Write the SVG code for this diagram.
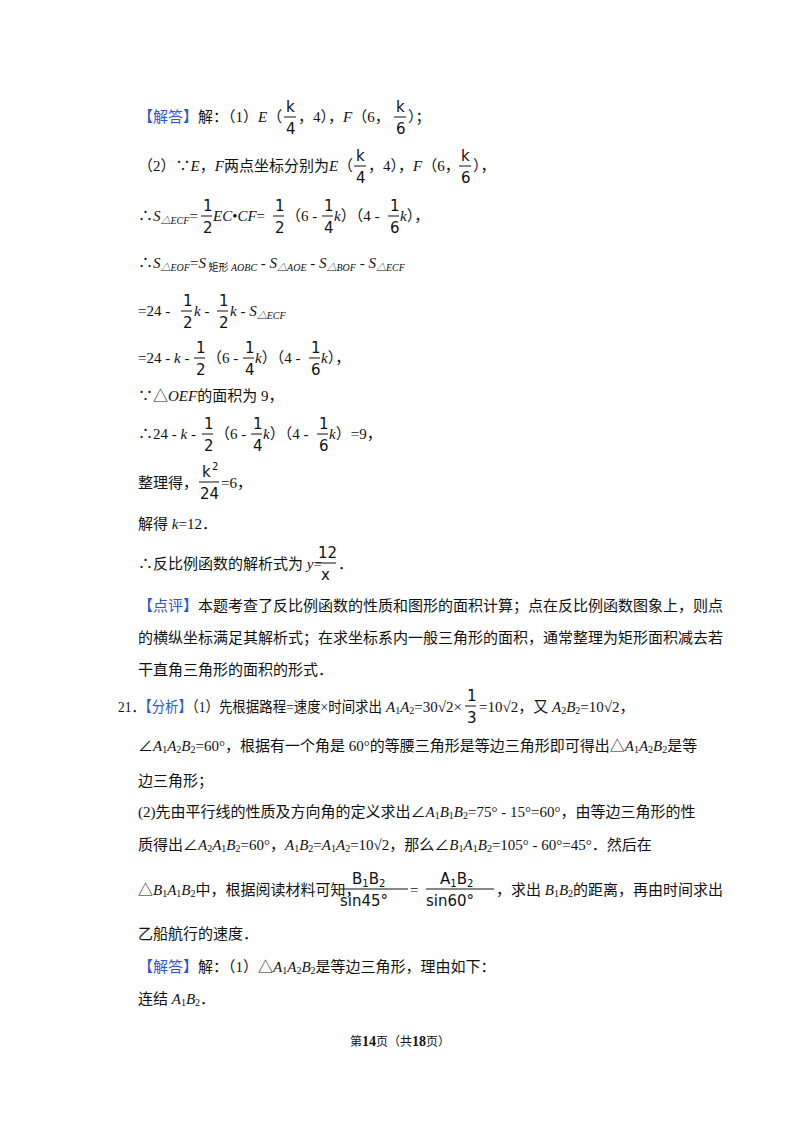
<svg xmlns="http://www.w3.org/2000/svg" width="800" height="1132" viewBox="0 0 800 1132">
<style>
text{font-family:"Liberation Serif","Noto Sans CJK SC",serif;font-size:15px;fill:#111}
.b{fill:#2b55d6}
.i{font-style:italic}
.s{font-size:10px}
.fr{font-family:"DejaVu Sans","Liberation Sans",sans-serif;font-size:15px}
line{stroke:#111;stroke-width:1}
</style>
<rect width="800" height="1132" fill="#fff"/>
<!-- line 1 -->
<text x="138" y="122"><tspan class="b">【解答】</tspan>解：（1）<tspan class="i">E</tspan>（</text>
<text class="fr" x="286" y="112">k</text><line x1="284" y1="117" x2="296" y2="117"/><text class="fr" x="286" y="134">4</text>
<text x="298" y="122">，4），<tspan class="i">F</tspan>（6，</text>
<text class="fr" x="396" y="112">k</text><line x1="394" y1="117" x2="406" y2="117"/><text class="fr" x="396" y="134">6</text>
<text x="408" y="122">）；</text>
<!-- line 2 -->
<text x="138" y="171">（2）∵<tspan class="i">E</tspan>，<tspan class="i">F</tspan>两点坐标分别为<tspan class="i">E</tspan>（</text>
<text class="fr" x="356" y="161">k</text><line x1="354" y1="166" x2="366" y2="166"/><text class="fr" x="356" y="183">4</text>
<text x="368" y="171">，4），<tspan class="i">F</tspan>（6，</text>
<text class="fr" x="461" y="161">k</text><line x1="459" y1="166" x2="471" y2="166"/><text class="fr" x="461" y="183">6</text>
<text x="473" y="171">），</text>
<!-- line 3 -->
<text x="138" y="221">∴<tspan class="i">S</tspan><tspan class="s i" dy="3">△ECF</tspan><tspan dy="-3">=</tspan></text>
<text class="fr" x="203" y="211">1</text><line x1="201" y1="216" x2="212" y2="216"/><text class="fr" x="203" y="233">2</text>
<text x="213" y="221" class="i">EC<tspan style="font-style:normal">•</tspan>CF<tspan style="font-style:normal">=</tspan></text>
<text class="fr" x="275" y="211">1</text><line x1="273" y1="216" x2="284" y2="216"/><text class="fr" x="275" y="233">2</text>
<text x="286" y="221">（6 - </text>
<text class="fr" x="324" y="211">1</text><line x1="322" y1="216" x2="333" y2="216"/><text class="fr" x="324" y="233">4</text>
<text x="334" y="221"><tspan class="i">k</tspan>）（4 - </text>
<text class="fr" x="390" y="211">1</text><line x1="388" y1="216" x2="399" y2="216"/><text class="fr" x="390" y="233">6</text>
<text x="400" y="221"><tspan class="i">k</tspan>），</text>
<!-- line 4 -->
<text x="138" y="268">∴<tspan class="i">S</tspan><tspan class="s i" dy="3">△EOF</tspan><tspan dy="-3">=</tspan><tspan class="i">S</tspan><tspan class="s" dy="3"> 矩形 </tspan><tspan class="s i">AOBC</tspan><tspan dy="-3"> - </tspan><tspan class="i">S</tspan><tspan class="s i" dy="3">△AOE</tspan><tspan dy="-3"> - </tspan><tspan class="i">S</tspan><tspan class="s i" dy="3">△BOF</tspan><tspan dy="-3"> - </tspan><tspan class="i">S</tspan><tspan class="s i" dy="3">△ECF</tspan></text>
<!-- line 5 -->
<text x="138" y="316">=24 - </text>
<text class="fr" x="183" y="306">1</text><line x1="181" y1="311" x2="192" y2="311"/><text class="fr" x="183" y="328">2</text>
<text x="194" y="316"><tspan class="i">k</tspan> - </text>
<text class="fr" x="219" y="306">1</text><line x1="217" y1="311" x2="228" y2="311"/><text class="fr" x="219" y="328">2</text>
<text x="230" y="316"><tspan class="i">k</tspan> - <tspan class="i">S</tspan><tspan class="s i" dy="3">△ECF</tspan></text>
<!-- line 6 -->
<text x="138" y="363">=24 - <tspan class="i">k</tspan> - </text>
<text class="fr" x="196" y="353">1</text><line x1="194" y1="358" x2="205" y2="358"/><text class="fr" x="196" y="375">2</text>
<text x="207" y="363">（6 - </text>
<text class="fr" x="245" y="353">1</text><line x1="243" y1="358" x2="254" y2="358"/><text class="fr" x="245" y="375">4</text>
<text x="255" y="363"><tspan class="i">k</tspan>）（4 - </text>
<text class="fr" x="311" y="353">1</text><line x1="309" y1="358" x2="320" y2="358"/><text class="fr" x="311" y="375">6</text>
<text x="321" y="363"><tspan class="i">k</tspan>），</text>
<!-- line 7 -->
<text x="138" y="401">∵△<tspan class="i">OEF</tspan>的面积为 9，</text>
<!-- line 8 -->
<text x="138" y="439">∴24 - <tspan class="i">k</tspan> - </text>
<text class="fr" x="204" y="429">1</text><line x1="202" y1="434" x2="213" y2="434"/><text class="fr" x="204" y="451">2</text>
<text x="215" y="439">（6 - </text>
<text class="fr" x="253" y="429">1</text><line x1="251" y1="434" x2="262" y2="434"/><text class="fr" x="253" y="451">4</text>
<text x="263" y="439"><tspan class="i">k</tspan>）（4 - </text>
<text class="fr" x="319" y="429">1</text><line x1="317" y1="434" x2="328" y2="434"/><text class="fr" x="319" y="451">6</text>
<text x="329" y="439"><tspan class="i">k</tspan>）=9，</text>
<!-- line 9 -->
<text x="138" y="488">整理得，</text>
<text class="fr" x="202" y="477">k</text><text class="fr" x="212" y="470" style="font-size:10px">2</text><line x1="199" y1="482" x2="219" y2="482"/><text class="fr" x="200" y="499">24</text>
<text x="221" y="488">=6，</text>
<!-- line 10 -->
<text x="138" y="529">解得 <tspan class="i">k</tspan>=12．</text>
<!-- line 11 -->
<text x="138" y="569">∴反比例函数的解析式为 <tspan class="i">y</tspan>=</text>
<text class="fr" x="318" y="558">12</text><line x1="316" y1="563" x2="336" y2="563"/><text class="fr" x="321" y="580">x</text>
<text x="338" y="569">．</text>
<!-- 点评 -->
<text x="138" y="611"><tspan class="b">【点评】</tspan>本题考查了反比例函数的性质和图形的面积计算；点在反比例函数图象上，则点</text>
<text x="138" y="643">的横纵坐标满足其解析式；在求坐标系内一般三角形的面积，通常整理为矩形面积减去若</text>
<text x="138" y="675">干直角三角形的面积的形式．</text>
<!-- 21 -->
<text x="118" y="712" textLength="264" lengthAdjust="spacingAndGlyphs">21．<tspan class="b">【分析】</tspan>（1）先根据路程=速度×时间求出</text>
<text x="386" y="712"><tspan class="i">A</tspan><tspan class="s" dy="2">1</tspan><tspan class="i" dy="-2">A</tspan><tspan class="s" dy="2">2</tspan><tspan dy="-2">=30√2×</tspan></text>
<text class="fr" x="467" y="701">1</text><line x1="465" y1="706" x2="476" y2="706"/><text class="fr" x="467" y="723">3</text>
<text x="479" y="712">=10√2，又 <tspan class="i">A</tspan><tspan class="s" dy="2">2</tspan><tspan class="i" dy="-2">B</tspan><tspan class="s" dy="2">2</tspan><tspan dy="-2">=10√2，</tspan></text>
<text x="138" y="751">∠<tspan class="i">A</tspan><tspan class="s" dy="2">1</tspan><tspan class="i" dy="-2">A</tspan><tspan class="s" dy="2">2</tspan><tspan class="i" dy="-2">B</tspan><tspan class="s" dy="2">2</tspan><tspan dy="-2">=60°，根据有一个角是 60°的等腰三角形是等边三角形即可得出△</tspan><tspan class="i">A</tspan><tspan class="s" dy="2">1</tspan><tspan class="i" dy="-2">A</tspan><tspan class="s" dy="2">2</tspan><tspan class="i" dy="-2">B</tspan><tspan class="s" dy="2">2</tspan><tspan dy="-2">是等</tspan></text>
<text x="138" y="786">边三角形；</text>
<text x="138" y="817">(2)先由平行线的性质及方向角的定义求出∠<tspan class="i">A</tspan><tspan class="s" dy="2">1</tspan><tspan class="i" dy="-2">B</tspan><tspan class="s" dy="2">1</tspan><tspan class="i" dy="-2">B</tspan><tspan class="s" dy="2">2</tspan><tspan dy="-2">=75° - 15°=60°，由等边三角形的性</tspan></text>
<text x="138" y="850">质得出∠<tspan class="i">A</tspan><tspan class="s" dy="2">2</tspan><tspan class="i" dy="-2">A</tspan><tspan class="s" dy="2">1</tspan><tspan class="i" dy="-2">B</tspan><tspan class="s" dy="2">2</tspan><tspan dy="-2">=60°，</tspan><tspan class="i">A</tspan><tspan class="s" dy="2">1</tspan><tspan class="i" dy="-2">B</tspan><tspan class="s" dy="2">2</tspan><tspan dy="-2">=</tspan><tspan class="i">A</tspan><tspan class="s" dy="2">1</tspan><tspan class="i" dy="-2">A</tspan><tspan class="s" dy="2">2</tspan><tspan dy="-2">=10√2，那么∠</tspan><tspan class="i">B</tspan><tspan class="s" dy="2">1</tspan><tspan class="i" dy="-2">A</tspan><tspan class="s" dy="2">1</tspan><tspan class="i" dy="-2">B</tspan><tspan class="s" dy="2">2</tspan><tspan dy="-2">=105° - 60°=45°．然后在</tspan></text>
<text x="138" y="895">△<tspan class="i">B</tspan><tspan class="s" dy="2">1</tspan><tspan class="i" dy="-2">A</tspan><tspan class="s" dy="2">1</tspan><tspan class="i" dy="-2">B</tspan><tspan class="s" dy="2">2</tspan><tspan dy="-2">中，根据阅读材料可知，</tspan></text>
<text class="fr" x="352" y="884">B<tspan style="font-size:10px" dy="3">1</tspan><tspan dy="-3">B</tspan><tspan style="font-size:10px" dy="3">2</tspan></text>
<line x1="340" y1="889" x2="408" y2="889"/>
<text class="fr" x="340" y="906">sin45°</text>
<text x="410" y="895">=</text>
<text class="fr" x="440" y="884">A<tspan style="font-size:10px" dy="3">1</tspan><tspan dy="-3">B</tspan><tspan style="font-size:10px" dy="3">2</tspan></text>
<line x1="426" y1="889" x2="494" y2="889"/>
<text class="fr" x="426" y="906">sin60°</text>
<text x="496" y="895">，求出 <tspan class="i">B</tspan><tspan class="s" dy="2">1</tspan><tspan class="i" dy="-2">B</tspan><tspan class="s" dy="2">2</tspan><tspan dy="-2">的距离，再由时间求出</tspan></text>
<text x="138" y="939">乙船航行的速度．</text>
<text x="138" y="972"><tspan class="b">【解答】</tspan>解：（1）△<tspan class="i">A</tspan><tspan class="s" dy="2">1</tspan><tspan class="i" dy="-2">A</tspan><tspan class="s" dy="2">2</tspan><tspan class="i" dy="-2">B</tspan><tspan class="s" dy="2">2</tspan><tspan dy="-2">是等边三角形，理由如下：</tspan></text>
<text x="138" y="1004">连结 <tspan class="i">A</tspan><tspan class="s" dy="2">1</tspan><tspan class="i" dy="-2">B</tspan><tspan class="s" dy="2">2</tspan><tspan dy="-2">．</tspan></text>
<!-- footer -->
<text x="400" y="1046" text-anchor="middle" style="font-size:12px">第<tspan style="font-weight:bold;font-size:14px">14</tspan>页（共<tspan style="font-weight:bold;font-size:14px">18</tspan>页）</text>
</svg>
